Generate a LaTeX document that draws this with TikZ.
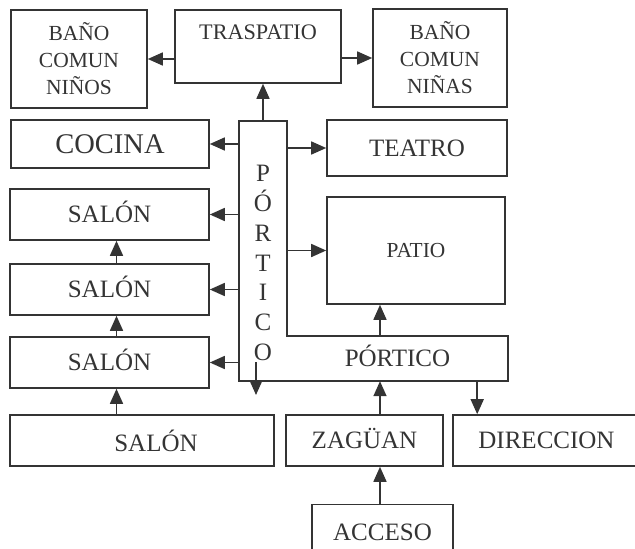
\documentclass[tikz,border=0pt]{standalone}
\usepackage{fontspec}
\setmainfont{Liberation Serif}
\usetikzlibrary{arrows.meta}
\definecolor{ink}{RGB}{52,52,52}

\begin{document}
\begin{tikzpicture}[x = 1pt, y = -1pt, color = ink,
	room/.style = {draw = ink, line width = 1.6pt, inner sep = 0pt,
				   text height = 16.5pt, text depth = 0pt},
	wall/.style = {draw = ink, line width = 1.6pt, line join = miter},
	arr/.style = {draw = ink, line width = 1.6pt,
				  -{Triangle[length = 15pt, width = 13pt]}},
	big/.style = {font = \fontsize{25}{29}\selectfont},
	small/.style = {font = \fontsize{21.5}{27}\selectfont, align = center,
					text height = {}, text depth = {}},
	every label/.style = {inner sep = 0pt, text = ink}]
	\useasboundingbox (0,0) rectangle (635,549);

	% upper row
	\draw (79,59) node[room, small,
					 minimum width = 136pt,
					 minimum height = 98pt](Ninos) {BAÑO\\COMUN\\NIÑOS};
	\draw (258,46.5) node[room,
					 minimum width = 166pt,
					 minimum height = 73pt,
					 label = {[anchor = north, yshift = -15pt,
							   font = \fontsize{22.2}{26}\selectfont]north:TRASPATIO}](Traspatio) {};
	\draw (440,58) node[room, small,
					 minimum width = 134pt,
					 minimum height = 98pt](Ninas) {BAÑO\\COMUN\\NIÑAS};

	% left column
	\draw (110,144) node[room,
					 font = \fontsize{28.5}{32}\selectfont,
					 text height = 18.9pt,
					 minimum width = 198pt,
					 minimum height = 48pt](Cocina) {COCINA};
	\draw (109.5,214.5) node[room, big,
					 minimum width = 199pt,
					 minimum height = 51pt](SalonA) {SALÓN};
	\draw (109.5,289.5) node[room, big,
					 minimum width = 199pt,
					 minimum height = 51pt](SalonB) {SALÓN};
	\draw (109.5,362.5) node[room, big,
					 minimum width = 199pt,
					 minimum height = 51pt](SalonC) {SALÓN};
	\draw (142,440.5) node[room,
					 minimum width = 264pt,
					 minimum height = 51pt,
					 label = {[big, xshift = 14pt]center:SALÓN}](SalonD) {};

	% right column
	\draw (417,148) node[room, big,
					 minimum width = 180pt,
					 minimum height = 56pt](Teatro) {TEATRO};
	\draw (416,250.5) node[room,
					 font = \fontsize{21.4}{25}\selectfont,
					 text height = 14.2pt,
					 minimum width = 178pt,
					 minimum height = 107pt](Patio) {PATIO};

	% portico (L shape)
	\draw (263,251) node[inner sep = 0pt,
					 minimum width = 48pt,
					 minimum height = 260pt,
					 label = {[font = \fontsize{25}{29.7}\selectfont, align = center,
							   yshift = -12pt]center:P\\Ó\\R\\T\\I\\C\\O}](Pv) {};
	\draw (397.5,358.5) node[inner sep = 0pt,
					 big,
					 text height = 16.5pt, text depth = 0pt,
					 minimum width = 221pt,
					 minimum height = 45pt](Ph) {PÓRTICO};
	\draw[wall] (Pv.north west) -- (Pv.north east) -- (Pv.east |- Ph.north)
		-- (Ph.north east) -- (Ph.south east) -- (Pv.south west) -- cycle;

	% bottom row
	\draw (364.5,440.5) node[room, big,
					 minimum width = 157pt,
					 minimum height = 51pt](Zaguan) {ZAGÜAN};
	\draw (546.5,440.5) node[room, big,
					 minimum width = 187pt,
					 minimum height = 51pt](Direccion) {DIRECCION};
	\draw (382.5,532) node[room, big,
					 minimum width = 141pt,
					 minimum height = 55pt](Acceso) {ACCESO};

	\coordinate (Axis) at (380,0);
	\coordinate (Drop) at (256,362);
	\coordinate (DropEnd) at (256,395);

	\draw[arr] (Traspatio.west |- Ninos) -- (Ninos.east);
	\draw[arr] (Traspatio.east |- Ninas) -- (Ninas.west);
	\draw[arr] (Pv.north) -- (Pv.north |- Traspatio.south);

	\draw[arr] (Pv.west |- Cocina) -- (Cocina.east);
	\draw[arr] (Pv.west |- SalonA) -- (SalonA.east);
	\draw[arr] (Pv.west |- SalonB) -- (SalonB.east);
	\draw[arr] (Pv.west |- SalonC) -- (SalonC.east);
	\draw[arr] (Pv.east |- Teatro) -- (Teatro.west);
	\draw[arr] (Pv.east |- Patio) -- (Patio.west);

	\draw[arr] ([xshift = 7pt]SalonB.north) -- ([xshift = 7pt]SalonA.south);
	\draw[arr] ([xshift = 7pt]SalonC.north) -- ([xshift = 7pt]SalonB.south);
	\draw[arr] ([xshift = 7pt]SalonD.north -| SalonC) -- ([xshift = 7pt]SalonC.south);

	\draw[arr] (Axis |- Ph.north) -- (Axis |- Patio.south);
	\draw[arr] (Axis |- Zaguan.north) -- (Axis |- Ph.south);
	\draw[arr] (Axis |- Acceso.north) -- (Axis |- Zaguan.south);
	\draw[arr] ([xshift = -31pt]Ph.south east) -- ([xshift = -31pt]Ph.south east |- Direccion.north);
	\draw[arr] (Drop) -- (DropEnd);

\end{tikzpicture}
\end{document}
